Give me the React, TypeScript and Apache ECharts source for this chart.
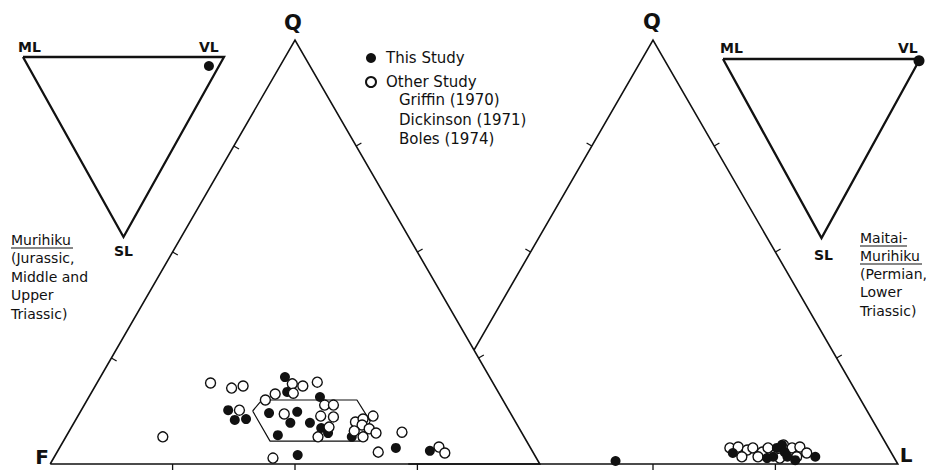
import React, { useEffect, useRef } from "react";
import * as echarts from "echarts";

const FONT = '"DejaVu Sans", "Liberation Sans", sans-serif';
const INK = "#111";
const S = Math.sqrt(3) / 2;

// ---------- data (ternary compositions, %) ----------
// Main diagrams: [Q, F, L]
const LEFT_THIS_STUDY = [
  [20.5, 41.8, 37.7], [17.0, 43.1, 39.9], [12.7, 57.3, 30.0], [10.4, 57.1, 32.5],
  [10.6, 54.7, 34.7], [12.0, 49.3, 38.7], [12.3, 43.4, 44.3], [9.7, 46.1, 44.2],
  [9.7, 42.1, 48.2], [15.8, 37.0, 47.2], [6.8, 50.1, 43.1], [8.5, 40.4, 51.1],
  [7.3, 39.6, 53.1], [6.4, 35.2, 58.4], [2.1, 48.4, 49.5], [3.8, 27.5, 68.7],
  [3.1, 20.9, 76.0],
];
const LEFT_OTHER_STUDY = [
  [6.4, 73.8, 19.8], [19.1, 57.7, 23.2], [17.9, 54.0, 28.1], [18.4, 51.4, 30.2],
  [15.1, 48.5, 36.4], [16.5, 45.8, 37.7], [18.9, 41.1, 40.0], [16.7, 42.0, 41.3],
  [18.4, 39.2, 42.4], [19.3, 35.8, 44.9], [12.7, 55.0, 32.3], [11.8, 46.3, 41.9],
  [1.4, 53.8, 44.8], [13.9, 37.0, 49.1], [13.9, 35.2, 50.9], [11.3, 39.1, 49.6],
  [11.1, 36.6, 52.3], [8.7, 38.7, 52.6], [6.4, 42.1, 51.5], [9.9, 32.7, 57.4],
  [10.6, 30.8, 58.6], [11.3, 28.4, 60.3], [9.2, 31.7, 59.1], [7.8, 34.0, 58.2],
  [8.3, 30.7, 61.0], [7.3, 29.8, 62.9], [6.4, 32.9, 60.7], [7.5, 24.4, 68.1],
  [2.8, 31.6, 65.6], [4.0, 18.6, 77.4], [2.6, 18.1, 79.3],
];
const LEFT_FIELD = [
  [12.5, 52.4, 35.1], [15.1, 49.2, 35.7], [15.1, 29.8, 55.1],
  [10.1, 29.6, 60.3], [5.4, 34.0, 60.6], [5.4, 52.4, 42.2],
];
const RIGHT_THIS_STUDY = [
  [0.7, 57.3, 42.0], [2.6, 32.4, 65.0], [3.8, 22.8, 73.4], [4.5, 21.4, 74.1],
  [1.7, 24.6, 73.7], [1.7, 21.7, 76.6], [0.9, 20.5, 78.6], [1.4, 26.0, 72.6],
  [2.8, 21.7, 75.5], [1.7, 16.0, 82.3],
];
const RIGHT_OTHER_STUDY = [
  [3.8, 32.4, 63.8], [4.0, 30.6, 65.4], [3.3, 29.1, 67.6], [3.8, 27.7, 68.5],
  [2.8, 26.3, 70.9], [3.8, 24.6, 71.6], [4.5, 21.1, 74.4], [3.8, 19.7, 76.5],
  [4.0, 18.0, 78.0], [2.6, 17.3, 80.1], [1.7, 31.0, 67.3], [1.7, 27.7, 70.6],
  [1.4, 23.4, 75.2], [1.7, 19.8, 78.5],
];
// Insets: [ML, VL, SL]
const LEFT_INSET = [[5, 90, 5]];
const RIGHT_INSET = [[0, 99, 1]];

const TICK_FRACTIONS = [0.25, 0.5, 0.75];
const LEGEND_ITEMS = ["This Study", "Other Study"];
const REFERENCES = ["Griffin (1970)", "Dickinson (1971)", "Boles (1974)"];
const LEFT_CAPTION = ["Murihiku", "(Jurassic,", "Middle and", "Upper", "Triassic)"];
const RIGHT_CAPTION = ["Maitai-", "Murihiku", "(Permian,", "Lower", "Triassic)"];

// ---------- layout ----------
const APEX_TOP = 40;
const BASE_Y = 464;
const TRI_H = BASE_Y - APEX_TOP;
const TRI_W = TRI_H / S;
const LEFT_APEX_X = 295;
const RIGHT_APEX_X = 653;
const LEFT_X0 = LEFT_APEX_X - TRI_W / 2;
const RIGHT_X0 = RIGHT_APEX_X - TRI_W / 2;
const TICK_LEN = 6;

const V_Q = [100, 0, 0];
const V_F = [0, 100, 0];
const V_L = [0, 0, 100];
const I_ML = [100, 0, 0];
const I_VL = [0, 100, 0];
const I_SL = [0, 0, 100];

const toXY = (p: number[]) => [p[2] / 100 + p[0] / 200, (p[0] / 100) * S];
const toInsetXY = (p: number[]) => [p[1] / 100 + p[2] / 200, 1 - p[2] / 100];

// Q % at which the right diagram's F–Q edge meets the left diagram's Q–L edge
const Q_CROSS = (100 * (LEFT_X0 + TRI_W - RIGHT_X0)) / TRI_W;
const V_CROSS = [Q_CROSS, 100 - Q_CROSS, 0];

type Tick = { from: number[]; to: number[]; at: number[]; side: number };

function frameSeries(idx: number, proj: (p: number[]) => number[], segments: number[][][], ticks: Tick[], lw: number) {
  return {
    type: "custom",
    xAxisIndex: idx,
    yAxisIndex: idx,
    coordinateSystem: "cartesian2d",
    data: [[0.5, 0.5]],
    silent: true,
    z: 2,
    renderItem: (_params: any, api: any) => {
      const children: any[] = [];
      segments.forEach((seg) => {
        children.push({
          type: "polyline",
          shape: { points: seg.map((p) => api.coord(proj(p))) },
          style: { stroke: INK, lineWidth: lw, fill: null, lineJoin: "miter" },
        });
      });
      ticks.forEach((t) => {
        const A = api.coord(proj(t.from));
        const B = api.coord(proj(t.to));
        const dx = B[0] - A[0];
        const dy = B[1] - A[1];
        const len = Math.hypot(dx, dy);
        const nx = (-dy / len) * t.side;
        const ny = (dx / len) * t.side;
        t.at.forEach((f) => {
          const px = A[0] + dx * f;
          const py = A[1] + dy * f;
          children.push({
            type: "line",
            shape: { x1: px, y1: py, x2: px + nx * TICK_LEN, y2: py + ny * TICK_LEN },
            style: { stroke: INK, lineWidth: 1.3 },
          });
        });
      });
      return { type: "group", children };
    },
  };
}

function txt(text: string, x: number, y: number, size: number, weight = "normal", align = "left") {
  return {
    type: "text",
    x,
    y,
    silent: true,
    style: {
      text,
      fill: INK,
      font: `${weight} ${size}px ${FONT}`,
      textAlign: align,
      textVerticalAlign: "middle",
    },
  };
}
function uline(x1: number, x2: number, y: number) {
  return { type: "line", silent: true, shape: { x1, y1: y, x2, y2: y }, style: { stroke: INK, lineWidth: 1.2 } };
}

export default function App() {
  const ref = useRef<HTMLDivElement>(null);
  useEffect(() => {
    if (!ref.current) return;
    const chart = echarts.init(ref.current, undefined, { renderer: "svg" });

    const filled = { color: INK, opacity: 1 };
    const open = { color: "#fff", borderColor: INK, borderWidth: 1.4, opacity: 1 };

    const leftTicks: Tick[] = [
      { from: V_F, to: V_Q, at: TICK_FRACTIONS, side: 1 },
      { from: V_Q, to: V_L, at: TICK_FRACTIONS, side: -1 },
      { from: V_F, to: V_L, at: TICK_FRACTIONS, side: 1 },
    ];
    const rightTicks: Tick[] = [
      { from: V_Q, to: V_F, at: TICK_FRACTIONS.filter((f) => 100 * (1 - f) >= Q_CROSS), side: 1 },
      { from: V_Q, to: V_L, at: TICK_FRACTIONS, side: -1 },
      { from: V_F, to: V_L, at: TICK_FRACTIONS.filter((f) => f > 0.3), side: 1 },
    ];

    const graphic: any[] = [
      txt("Q", LEFT_APEX_X - 2, 23, 21, "bold", "center"),
      txt("Q", RIGHT_APEX_X - 1, 22, 21, "bold", "center"),
      txt("F", 42, 457, 20, "bold", "center"),
      txt("L", 906, 455, 20, "bold", "center"),
      txt("ML", 18, 47, 14, "bold"),
      txt("VL", 199, 47, 14, "bold"),
      txt("SL", 114, 251, 14, "bold"),
      txt("ML", 720, 48, 14, "bold"),
      txt("VL", 898, 48, 14, "bold"),
      txt("SL", 814, 255, 14, "bold"),
    ];
    const leftYs = [240, 258, 277, 295, 314];
    LEFT_CAPTION.forEach((t, i) => graphic.push(txt(t, 11, leftYs[i], 14)));
    graphic.push(uline(11, 73, 248));
    const rightYs = [238, 256, 274, 292, 311];
    RIGHT_CAPTION.forEach((t, i) => graphic.push(txt(t, 860, rightYs[i], 14)));
    graphic.push(uline(860, 907, 246));
    graphic.push(uline(860, 922, 264));
    const refYs = [100, 120, 139];
    REFERENCES.forEach((t, i) => graphic.push(txt(t, 399, refYs[i], 15)));

    const option: any = {
      animation: false,
      backgroundColor: "#fff",
      grid: [
        { left: LEFT_X0, top: APEX_TOP, width: TRI_W, height: TRI_H },
        { left: RIGHT_X0, top: APEX_TOP, width: TRI_W, height: TRI_H },
        { left: 23, top: 57, width: 201, height: 180 },
        { left: 723, top: 59, width: 197, height: 179 },
      ],
      xAxis: [0, 1, 2, 3].map((i) => ({ type: "value", gridIndex: i, min: 0, max: 1, show: false })),
      yAxis: [0, 1, 2, 3].map((i) => ({ type: "value", gridIndex: i, min: 0, max: i < 2 ? S : 1, show: false })),
      legend: {
        data: LEGEND_ITEMS,
        orient: "vertical",
        left: 365,
        top: 50,
        padding: 0,
        itemWidth: 20,
        itemHeight: 10,
        itemGap: 8,
        icon: "circle",
        selectedMode: false,
        textStyle: { fontFamily: FONT, fontSize: 15, color: INK, lineHeight: 16 },
      },
      graphic,
      series: [
        frameSeries(0, toXY, [[V_F, V_Q, V_L, V_F]], leftTicks, 1.6),
        frameSeries(1, toXY, [[V_CROSS, V_Q, V_L, V_F]], rightTicks, 1.6),
        frameSeries(2, toInsetXY, [[I_ML, I_VL, I_SL, I_ML]], [], 2.3),
        frameSeries(3, toInsetXY, [[I_ML, I_VL, I_SL, I_ML]], [], 2.3),
        {
          type: "line",
          xAxisIndex: 0,
          yAxisIndex: 0,
          data: [...LEFT_FIELD, LEFT_FIELD[0]].map(toXY),
          symbol: "none",
          silent: true,
          lineStyle: { color: INK, width: 1.2 },
          z: 2,
        },
        { type: "scatter", name: "This Study", xAxisIndex: 0, yAxisIndex: 0, data: LEFT_THIS_STUDY.map(toXY), symbolSize: 10, itemStyle: filled, z: 3 },
        { type: "scatter", name: "Other Study", xAxisIndex: 0, yAxisIndex: 0, data: LEFT_OTHER_STUDY.map(toXY), symbolSize: 10, itemStyle: open, z: 4 },
        { type: "scatter", name: "Other Study", xAxisIndex: 1, yAxisIndex: 1, data: RIGHT_OTHER_STUDY.map(toXY), symbolSize: 10, itemStyle: open, z: 3 },
        { type: "scatter", name: "This Study", xAxisIndex: 1, yAxisIndex: 1, data: RIGHT_THIS_STUDY.map(toXY), symbolSize: 10, itemStyle: filled, z: 4 },
        { type: "scatter", name: "This Study", xAxisIndex: 2, yAxisIndex: 2, data: LEFT_INSET.map(toInsetXY), symbolSize: 10, itemStyle: filled, z: 4 },
        { type: "scatter", name: "This Study", xAxisIndex: 3, yAxisIndex: 3, data: RIGHT_INSET.map(toInsetXY), symbolSize: 11, itemStyle: filled, z: 4 },
      ],
    };
    chart.setOption(option);
    return () => chart.dispose();
  }, []);
  return <div ref={ref} style={{ position: "fixed", left: 0, top: 0, width: 926, height: 471, background: "#fff" }} />;
}
